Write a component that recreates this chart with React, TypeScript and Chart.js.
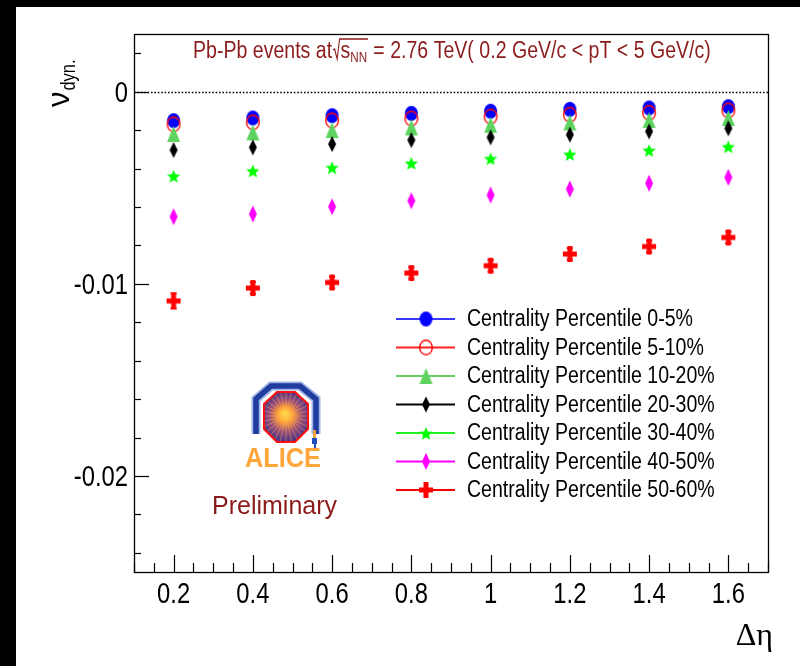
import React, { useEffect, useRef } from "react";
import { Chart, registerables } from "chart.js";

Chart.register(...registerables);

// ---------- data ----------
const deltaEta = [0.2, 0.4, 0.6, 0.8, 1.0, 1.2, 1.4, 1.6];
const nuDyn0to5 = [-0.00151, -0.00137, -0.00125, -0.00113, -0.00102, -0.00092, -0.00085, -0.00078];
const nuDyn5to10 = [-0.0017, -0.0016, -0.0015, -0.0014, -0.0013, -0.0012, -0.0011, -0.00098];
const nuDyn10to20 = [-0.0022, -0.00212, -0.002, -0.00186, -0.00172, -0.0016, -0.00147, -0.00137];
const nuDyn20to30 = [-0.00304, -0.0029, -0.00273, -0.00252, -0.00238, -0.00224, -0.00207, -0.00191];
const nuDyn30to40 = [-0.00438, -0.00411, -0.00394, -0.00371, -0.00347, -0.00325, -0.00304, -0.00285];
const nuDyn40to50 = [-0.00651, -0.00637, -0.00599, -0.00568, -0.00538, -0.00507, -0.00477, -0.00446];
const nuDyn50to60 = [-0.01089, -0.01022, -0.00993, -0.00944, -0.00906, -0.00845, -0.00806, -0.00759];
const err50to60 = [0.0004, 0.0003, 0.0003, 0.0003, 0.0003, 0.0003, 0.0003, 0.0003];

const seriesLabels = [
  "Centrality Percentile 0-5%",
  "Centrality Percentile 5-10%",
  "Centrality Percentile 10-20%",
  "Centrality Percentile 20-30%",
  "Centrality Percentile 30-40%",
  "Centrality Percentile 40-50%",
  "Centrality Percentile 50-60%",
];

const xTickValues = [0.2, 0.4, 0.6, 0.8, 1.0, 1.2, 1.4, 1.6];
const xTickLabels = ["0.2", "0.4", "0.6", "0.8", "1", "1.2", "1.4", "1.6"];
const yTickValues = [-0.02, -0.01, 0];
const yTickLabels = ["-0.02", "-0.01", "0"];

const titleLead = "Pb-Pb events at";
const titleS = "s";
const titleSub = "NN";
const titleTail = " = 2.76 TeV( 0.2 GeV/c < pT < 5 GeV/c)";
const xAxisTitle = "\u0394\u03B7";
const yAxisTitleMain = "\u03BD";
const yAxisTitleSub = "dyn.";
const logoWord = "ALICE";
const prelimWord = "Preliminary";

// ---------- styles ----------
const SANS = "'Liberation Sans', Arial, sans-serif";
const SERIF = "'Liberation Serif', 'DejaVu Serif', serif";
const CONDENSE = 0.82;

const seriesStyles = [
  { kind: "circle", color: "#0000ff", line: "#3a3aff", w: 13, h: 15 },
  { kind: "openCircle", color: "#ff0000", line: "#ff2020", w: 14, h: 16 },
  { kind: "triangle", color: "#5fd35f", line: "#66d066", w: 13, h: 16 },
  { kind: "diamond", color: "#000000", line: "#000000", w: 8, h: 16 },
  { kind: "star", color: "#00ff00", line: "#20f020", w: 14, h: 14 },
  { kind: "diamond", color: "#ff00ff", line: "#ff00ff", w: 8, h: 17 },
  { kind: "cross", color: "#ff0000", line: "#ff0000", w: 14, h: 16 },
];

function makeMarker(kind: string, color: string, w: number, h: number): HTMLCanvasElement {
  const pad = 2;
  const c = document.createElement("canvas");
  c.width = w + pad * 2;
  c.height = h + pad * 2;
  const ctx = c.getContext("2d")!;
  const cx = c.width / 2;
  const cy = c.height / 2;
  ctx.fillStyle = color;
  ctx.strokeStyle = color;
  ctx.beginPath();
  if (kind === "circle") {
    ctx.ellipse(cx, cy, w / 2, h / 2, 0, 0, Math.PI * 2);
    ctx.fill();
  } else if (kind === "openCircle") {
    ctx.lineWidth = 1.4;
    ctx.ellipse(cx, cy, w / 2 - 0.7, h / 2 - 0.7, 0, 0, Math.PI * 2);
    ctx.stroke();
  } else if (kind === "triangle") {
    ctx.moveTo(cx, cy - h / 2);
    ctx.lineTo(cx + w / 2, cy + h / 2);
    ctx.lineTo(cx - w / 2, cy + h / 2);
    ctx.closePath();
    ctx.fill();
  } else if (kind === "diamond") {
    ctx.moveTo(cx, cy - h / 2);
    ctx.lineTo(cx + w / 2, cy);
    ctx.lineTo(cx, cy + h / 2);
    ctx.lineTo(cx - w / 2, cy);
    ctx.closePath();
    ctx.fill();
  } else if (kind === "star") {
    const R = w / 2;
    const r = R * 0.45;
    const sy = h / w;
    for (let k = 0; k < 10; k++) {
      const ang = -Math.PI / 2 + (k * Math.PI) / 5;
      const rad = k % 2 === 0 ? R : r;
      const px = cx + rad * Math.cos(ang);
      const py = cy + 1 + rad * Math.sin(ang) * sy;
      if (k === 0) ctx.moveTo(px, py);
      else ctx.lineTo(px, py);
    }
    ctx.closePath();
    ctx.fill();
  } else if (kind === "cross") {
    const t = 5;
    ctx.fillRect(cx - t / 2, cy - h / 2, t, h);
    ctx.fillRect(cx - w / 2, cy - t / 2, w, t);
  }
  return c;
}

function condensedText(ctx: CanvasRenderingContext2D, text: string, x: number, y: number, sx: number, align: string) {
  const w = ctx.measureText(text).width * sx;
  let left = x;
  if (align === "center") left = x - w / 2;
  else if (align === "right") left = x - w;
  ctx.save();
  ctx.textAlign = "left";
  ctx.translate(left, y);
  ctx.scale(sx, 1);
  ctx.fillText(text, 0, 0);
  ctx.restore();
}

function drawAlice(ctx: CanvasRenderingContext2D) {
  ctx.save();
  ctx.lineJoin = "miter";
  const arch = () => {
    ctx.beginPath();
    ctx.moveTo(256, 434);
    ctx.lineTo(256, 399);
    ctx.lineTo(271, 386);
    ctx.lineTo(300, 386);
    ctx.lineTo(316, 399);
    ctx.lineTo(316, 434);
  };
  arch();
  ctx.strokeStyle = "#9fb4e6";
  ctx.lineWidth = 9;
  ctx.stroke();
  arch();
  ctx.strokeStyle = "#1f3c9e";
  ctx.lineWidth = 5.5;
  ctx.stroke();
  const oct = () => {
    ctx.beginPath();
    ctx.moveTo(277, 392);
    ctx.lineTo(295, 392);
    ctx.lineTo(308, 404);
    ctx.lineTo(308, 429);
    ctx.lineTo(295, 442);
    ctx.lineTo(277, 442);
    ctx.lineTo(264, 429);
    ctx.lineTo(264, 404);
    ctx.closePath();
  };
  oct();
  const g = ctx.createRadialGradient(285, 414, 1, 286, 417, 28);
  g.addColorStop(0, "#ffe040");
  g.addColorStop(0.25, "#ff9a3a");
  g.addColorStop(0.55, "#a0507a");
  g.addColorStop(1, "#302a8a");
  ctx.fillStyle = g;
  ctx.fill();
  ctx.save();
  oct();
  ctx.clip();
  ctx.strokeStyle = "rgba(255,200,80,0.55)";
  ctx.lineWidth = 0.7;
  for (let k = 0; k < 28; k++) {
    const a = (k * Math.PI * 2) / 28;
    ctx.beginPath();
    ctx.moveTo(286, 416);
    ctx.lineTo(286 + 30 * Math.cos(a), 416 + 30 * Math.sin(a));
    ctx.stroke();
  }
  ctx.restore();
  oct();
  ctx.strokeStyle = "#ff1010";
  ctx.lineWidth = 2;
  ctx.stroke();
  ctx.fillStyle = "#f0a040";
  ctx.fillRect(313, 430, 3, 8);
  ctx.fillStyle = "#2050c0";
  ctx.fillRect(312, 438, 5, 6);
  ctx.fillRect(314, 444, 2, 6);
  ctx.font = `bold 27px ${SANS}`;
  ctx.fillStyle = "#ffa53a";
  ctx.textBaseline = "alphabetic";
  ctx.textAlign = "left";
  const ww = ctx.measureText(logoWord).width;
  ctx.save();
  ctx.translate(245, 467);
  ctx.scale(76 / ww, 1);
  ctx.fillText(logoWord, 0, 0);
  ctx.restore();
  ctx.font = `25px ${SANS}`;
  ctx.fillStyle = "#8b1a1a";
  const pw = ctx.measureText(prelimWord).width;
  ctx.save();
  ctx.translate(212, 514);
  ctx.scale(125 / pw, 1);
  ctx.fillText(prelimWord, 0, 0);
  ctx.restore();
  ctx.restore();
}

export default function App() {
  const ref = useRef<HTMLCanvasElement>(null);

  useEffect(() => {
    document.body.style.margin = "0";
    const markers = seriesStyles.map((s) => makeMarker(s.kind, s.color, s.w, s.h));
    const allSeries = [nuDyn0to5, nuDyn5to10, nuDyn10to20, nuDyn20to30, nuDyn30to40, nuDyn40to50, nuDyn50to60];
    const allErrors: (number[] | null)[] = [null, null, null, null, null, null, err50to60];

    const datasets = allSeries.map((vals, i) => ({
      label: seriesLabels[i],
      data: deltaEta.map((x, j) => ({ x, y: vals[j] })),
      showLine: false,
      pointStyle: markers[i] as any,
      pointRadius: 8,
      backgroundColor: seriesStyles[i].color,
      borderColor: seriesStyles[i].color,
      order: allSeries.length - i,
    }));

    const decor = {
      id: "rootDecor",
      beforeDraw(chart: any) {
        const ctx = chart.ctx as CanvasRenderingContext2D;
        ctx.save();
        ctx.fillStyle = "#000";
        ctx.fillRect(0, 0, 800, 666);
        ctx.fillStyle = "#fff";
        ctx.fillRect(16, 7, 784, 659);
        ctx.restore();
      },
      beforeDatasetsDraw(chart: any) {
        const ctx = chart.ctx as CanvasRenderingContext2D;
        const a = chart.chartArea;
        const xs = chart.scales.x;
        const ys = chart.scales.y;
        const y0 = Math.round(ys.getPixelForValue(0)) + 0.5;
        ctx.save();
        ctx.strokeStyle = "#000";
        ctx.lineWidth = 1.6;
        ctx.setLineDash([1.6, 1.8]);
        ctx.beginPath();
        ctx.moveTo(a.left, y0);
        ctx.lineTo(a.right, y0);
        ctx.stroke();
        ctx.setLineDash([]);
        allErrors.forEach((errs, i) => {
          if (!errs) return;
          ctx.strokeStyle = seriesStyles[i].color;
          ctx.lineWidth = 2;
          deltaEta.forEach((xv, j) => {
            const px = xs.getPixelForValue(xv);
            const top = ys.getPixelForValue(allSeries[i][j] + errs[j]);
            const bot = ys.getPixelForValue(allSeries[i][j] - errs[j]);
            ctx.beginPath();
            ctx.moveTo(px, top);
            ctx.lineTo(px, bot);
            ctx.moveTo(px - 3, top);
            ctx.lineTo(px + 3, top);
            ctx.moveTo(px - 3, bot);
            ctx.lineTo(px + 3, bot);
            ctx.stroke();
          });
        });
        ctx.restore();
      },
      afterDatasetsDraw(chart: any) {
        const ctx = chart.ctx as CanvasRenderingContext2D;
        const a = chart.chartArea;
        const xs = chart.scales.x;
        const ys = chart.scales.y;
        ctx.save();
        // frame
        ctx.strokeStyle = "#000";
        ctx.lineWidth = 1.3;
        ctx.strokeRect(Math.round(a.left) + 0.5, Math.round(a.top) + 0.5, Math.round(a.right - a.left), Math.round(a.bottom - a.top));
        // x ticks (inward)
        ctx.lineWidth = 1.2;
        for (let k = 0; k <= 32; k++) {
          const v = xs.min + k * 0.05;
          const isMajor = k % 4 === 2;
          const px = Math.round(xs.getPixelForValue(v)) + 0.5;
          const len = isMajor ? 17 : 9;
          ctx.beginPath();
          ctx.moveTo(px, a.bottom);
          ctx.lineTo(px, a.bottom - len);
          ctx.stroke();
        }
        // y ticks (inward)
        for (let k = -12; k <= 1; k++) {
          const v = k * 0.002;
          const isMajor = k % 5 === 0;
          const py = Math.round(ys.getPixelForValue(v)) + 0.5;
          const len = isMajor ? 15 : 7;
          ctx.beginPath();
          ctx.moveTo(a.left, py);
          ctx.lineTo(a.left + len, py);
          ctx.stroke();
        }

        // tick labels from the scales' ticks
        ctx.fillStyle = "#000";
        ctx.font = `29px ${SANS}`;
        ctx.textBaseline = "alphabetic";
        xs.ticks.forEach((t: any, i: number) => {
          const label = t.label != null ? String(t.label) : xTickLabels[i];
          condensedText(ctx, label, xs.getPixelForValue(t.value), 603, CONDENSE, "center");
        });
        ys.ticks.forEach((t: any, i: number) => {
          const label = t.label != null ? String(t.label) : yTickLabels[i];
          condensedText(ctx, label, 128, ys.getPixelForValue(t.value) + 10.5, CONDENSE, "right");
        });

        // legend
        ctx.font = `23.5px ${SANS}`;
        const lw = ctx.measureText(seriesLabels[0]).width;
        const lsx = 226 / lw;
        chart.data.datasets.forEach((ds: any, i: number) => {
          const yy = 319 + i * 28.5;
          ctx.strokeStyle = seriesStyles[i].line;
          ctx.lineWidth = 2;
          ctx.beginPath();
          ctx.moveTo(396, yy);
          ctx.lineTo(455, yy);
          ctx.stroke();
          const m = markers[i];
          ctx.drawImage(m, 426 - m.width / 2, yy - m.height / 2);
          ctx.save();
          ctx.fillStyle = "#000";
          ctx.textBaseline = "middle";
          ctx.translate(467, yy + 1);
          ctx.scale(lsx, 1);
          ctx.fillText(ds.label, 0, 0);
          ctx.restore();
        });

        // title
        const tSize = 23.5;
        const tColor = "#8c1c1c";
        ctx.font = `${tSize}px ${SANS}`;
        const w1 = ctx.measureText(titleLead).width;
        const wS = ctx.measureText(titleS).width;
        const w3 = ctx.measureText(titleTail).width;
        const subSize = Math.round(tSize * 0.6);
        ctx.font = `${subSize}px ${SANS}`;
        const wN = ctx.measureText(titleSub).width;
        const sqW = 9;
        const total = w1 + sqW + wS + wN + 1 + w3;
        const tsx = 517 / total;
        ctx.save();
        ctx.translate(193, 58);
        ctx.scale(tsx, 1);
        ctx.fillStyle = tColor;
        ctx.strokeStyle = tColor;
        ctx.textBaseline = "alphabetic";
        ctx.textAlign = "left";
        ctx.font = `${tSize}px ${SANS}`;
        ctx.fillText(titleLead, 0, 0);
        let cx = w1 + 1;
        ctx.lineWidth = 1.3;
        ctx.beginPath();
        ctx.moveTo(cx, -8);
        ctx.lineTo(cx + 2, -9);
        ctx.lineTo(cx + 5, 1);
        ctx.lineTo(cx + 8, -19);
        ctx.lineTo(cx + sqW + wS + wN + 1, -19);
        ctx.stroke();
        cx += sqW;
        ctx.fillText(titleS, cx, 0);
        cx += wS;
        ctx.font = `${subSize}px ${SANS}`;
        ctx.fillText(titleSub, cx, 4);
        cx += wN + 1;
        ctx.font = `${tSize}px ${SANS}`;
        ctx.fillText(titleTail, cx, 0);
        ctx.restore();

        // axis titles
        ctx.fillStyle = "#000";
        ctx.font = `32px ${SERIF}`;
        ctx.textAlign = "right";
        ctx.textBaseline = "alphabetic";
        ctx.fillText(xAxisTitle, 773, 645);

        ctx.save();
        ctx.translate(69, 107);
        ctx.rotate(-Math.PI / 2);
        ctx.textAlign = "left";
        ctx.font = `31px ${SANS}`;
        ctx.fillText(yAxisTitleMain, 0, 0);
        const nuW = ctx.measureText(yAxisTitleMain).width;
        ctx.font = `20px ${SANS}`;
        condensedText(ctx, yAxisTitleSub, nuW + 1, 6, CONDENSE, "left");
        ctx.restore();

        drawAlice(ctx);
        ctx.restore();
      },
    };

    const chart = new Chart(ref.current!, {
      type: "scatter",
      data: { datasets: datasets as any },
      options: {
        responsive: false,
        animation: false,
        events: [],
        layout: { padding: { top: 34, right: 32, left: 0, bottom: 0 } },
        plugins: {
          legend: { display: false },
          tooltip: { enabled: false },
          title: { display: false },
        },
        scales: {
          x: {
            type: "linear",
            min: 0.1,
            max: 1.7,
            grid: { display: false },
            border: { display: false },
            afterBuildTicks: (s: any) => {
              s.ticks = xTickValues.map((v) => ({ value: v }));
            },
            afterFit: (s: any) => {
              s.height = 94;
            },
            ticks: {
              display: false,
              autoSkip: false,
              callback: (_v: any, i: number) => xTickLabels[i],
            },
          },
          y: {
            type: "linear",
            min: -0.025,
            max: 0.003,
            grid: { display: false },
            border: { display: false },
            afterBuildTicks: (s: any) => {
              s.ticks = yTickValues.map((v) => ({ value: v }));
            },
            afterFit: (s: any) => {
              s.width = 134;
            },
            ticks: {
              display: false,
              autoSkip: false,
              callback: (_v: any, i: number) => yTickLabels[i],
            },
          },
        },
      },
      plugins: [decor],
    });
    return () => chart.destroy();
  }, []);

  return (
    <div style={{ width: 800, height: 666, position: "relative" }}>
      <canvas ref={ref} width={800} height={666} style={{ display: "block", width: 800, height: 666 }} />
    </div>
  );
}
